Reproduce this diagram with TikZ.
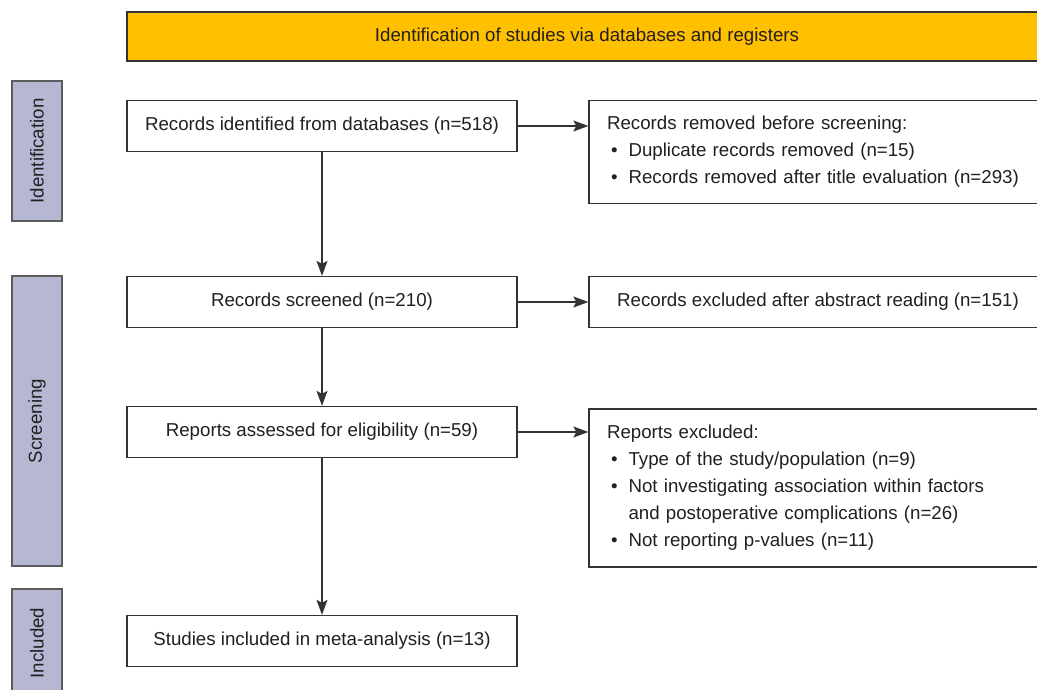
\documentclass[tikz,border=0pt]{standalone}
\usepackage{fontspec}
\setmainfont{Liberation Sans}
\usetikzlibrary{arrows.meta}

\definecolor{bannerfill}{HTML}{FFC000}
\definecolor{phasefill}{HTML}{B6B7D3}
\definecolor{linegray}{HTML}{333333}
\definecolor{textgray}{HTML}{231F20}

\begin{document}
\begin{tikzpicture}[
	x=1pt, y=-1pt,
	font=\fontsize{18.7}{27}\selectfont,
	text=textgray,
	block/.style={
		draw=linegray, line width=1.3pt, fill=white,
		minimum width=390pt, minimum height=51pt,
		align=center, inner sep=0pt,
	},
	sidebox/.style={
		block,
		minimum width=458pt,
	},
	listbox/.style={
		draw=linegray, line width=1.3pt, fill=white,
		text width=422pt, inner xsep=18pt, inner ysep=0pt,
		align=left,
	},
	phase/.style={
		draw=linegray!80, line width=1.3pt, fill=phasefill,
		rotate=90, minimum height=50pt, inner sep=0pt,
	},
	flow/.style={
		draw=linegray, line width=1.3pt,
		-{Stealth[length=15pt,width=11pt,inset=3pt]},
	}
]
\clip (0,0) rectangle (1037,690);

\node[block, fill=bannerfill, minimum width=920pt, minimum height=49pt] (banner) at (587,36.5)
	{Identification of studies via databases and registers};

\node[phase, minimum width=140pt] (ident) at (37,151) {Identification};
\node[phase, minimum width=290pt] (screen) at (37,421) {Screening};
\node[phase, minimum width=108pt] (incl) at (37,643) {Included};

\node[block] (found) at (322,126) {Records identified from databases (n=518)};
\node[block] (screened) at (322,302) {Records screened (n=210)};
\node[block] (assessed) at (322,432) {Reports assessed for eligibility (n=59)};
\node[block] (included) at (322,641) {Studies included in meta-analysis (n=13)};

\node[listbox, minimum height=103pt] (removed) at (818,152)
	{Records removed before screening:\\
	\hspace*{4pt}\textbullet\hspace{11pt}Duplicate records removed (n=15)\\
	\hspace*{4pt}\textbullet\hspace{11pt}Records removed after title evaluation (n=293)};
\node[sidebox] (abstract) at (818,302) {Records excluded after abstract reading (n=151)};
\node[listbox, minimum height=158pt] (excluded) at (818,488)
	{Reports excluded:\\
	\hspace*{4pt}\textbullet\hspace{11pt}Type of the study/population (n=9)\\
	\hspace*{4pt}\textbullet\hspace{11pt}Not investigating association within factors\\
	\hspace*{21.5pt}and postoperative complications (n=26)\\
	\hspace*{4pt}\textbullet\hspace{11pt}Not reporting p-values (n=11)};

\draw[flow] (found) -- (screened);
\draw[flow] (screened) -- (assessed);
\draw[flow] (assessed) -- (included);
\draw[flow] (found) -- (found -| removed.west);
\draw[flow] (screened) -- (abstract);
\draw[flow] (assessed) -- (assessed -| excluded.west);

\end{tikzpicture}
\end{document}
